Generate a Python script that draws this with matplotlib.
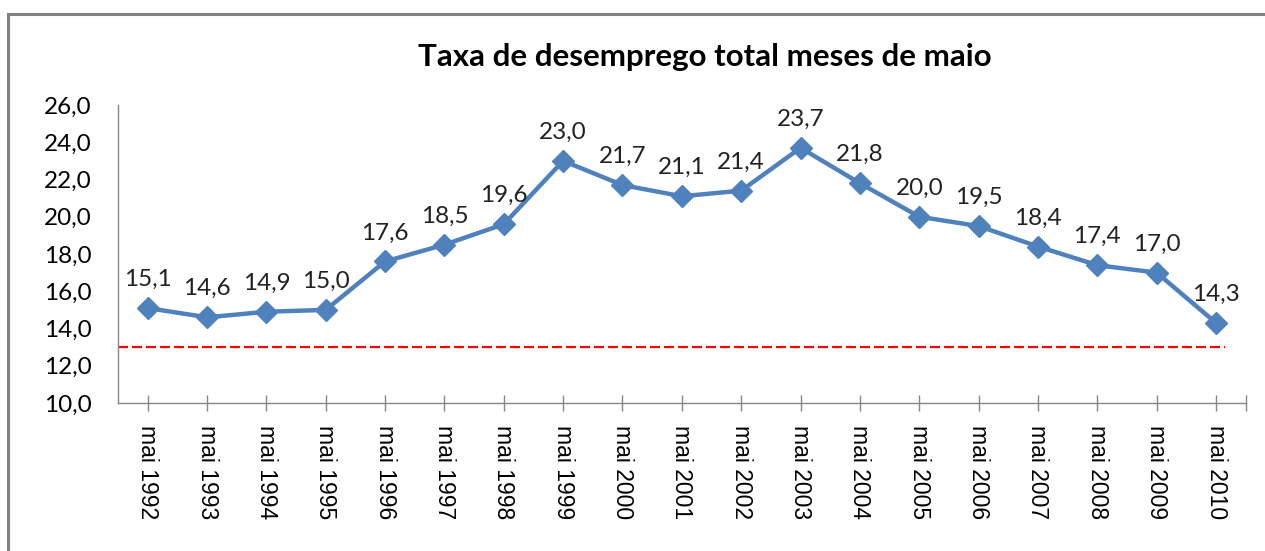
"""
Taxa de desemprego total, meses de maio (1992-2010)
Line chart with data labels and a dashed reference line at 13,0.
"""

import matplotlib.pyplot as plt
from matplotlib.patches import Rectangle

YEARS  = list(range(1992, 2011))
LABELS = [f"mai {y}" for y in YEARS]
RATE   = [15.1, 14.6, 14.9, 15.0, 17.6, 18.5, 19.6, 23.0, 21.7, 21.1,
          21.4, 23.7, 21.8, 20.0, 19.5, 18.4, 17.4, 17.0, 14.3]
REF_LEVEL = 13.0
Y_TICKS   = [10, 12, 14, 16, 18, 20, 22, 24, 26]

BLUE = "#4F81BD"


def fmt(v):
    return f"{v:.1f}".replace(".", ",")


def chart():
    plt.rcParams.update({
        "font.family": ["Lato", "DejaVu Sans"],
        "font.size": 17,
    })

    fig = plt.figure(figsize=(12.65, 5.51), dpi=100)
    ax = fig.add_axes([118 / 1265, 1 - 403 / 551, (1245.7 - 118) / 1265, (403 - 105) / 551])

    # outer frame of the chart area
    fig.patches.append(Rectangle((8 / 1265, -0.1), 1.2, 1 - 14 / 551 + 0.1,
                                 transform=fig.transFigure, fill=False,
                                 edgecolor="#808080", lw=2.2))

    x = list(range(len(YEARS)))
    ax.plot(x, RATE, color=BLUE, lw=3.2, marker="D", ms=11, mec=BLUE, mfc=BLUE, zorder=3)

    for xi, v in zip(x, RATE):
        ax.annotate(fmt(v), (xi, v), xytext=(0, 13), textcoords="offset points",
                    ha="center", va="bottom", fontsize=17.5, color="#222222")

    ax.plot([-0.5, len(YEARS) - 0.85], [REF_LEVEL, REF_LEVEL], color="#FF0000",
            lw=1.6, ls=(0, (4.5, 1.8)), zorder=2)

    ax.set_xlim(-0.5, len(YEARS) - 0.5)
    ax.set_ylim(10, 26)
    ax.set_yticks(Y_TICKS)
    ax.set_yticklabels([fmt(t) for t in Y_TICKS])
    ax.tick_params(axis="y", length=0, pad=19, labelsize=17.5)

    ax.set_xticks(x)
    ax.set_xticklabels(LABELS, rotation=-90, fontsize=16.5, fontfamily=["Liberation Sans"])
    ax.set_xticks([len(YEARS) - 0.5], minor=True)
    ax.tick_params(axis="x", which="both", direction="inout", length=12,
                   color="#868686", width=1, pad=10)

    for side in ("top", "right"):
        ax.spines[side].set_visible(False)
    for side in ("left", "bottom"):
        ax.spines[side].set_color("#868686")
        ax.spines[side].set_linewidth(1)

    fig.text(705 / 1265, 1 - 57 / 551, "Taxa de desemprego total meses de maio",
             ha="center", va="center", fontsize=22.5, fontweight="bold")

    fig.savefig("out.png", dpi=100)
    plt.close(fig)


if __name__ == "__main__":
    chart()
